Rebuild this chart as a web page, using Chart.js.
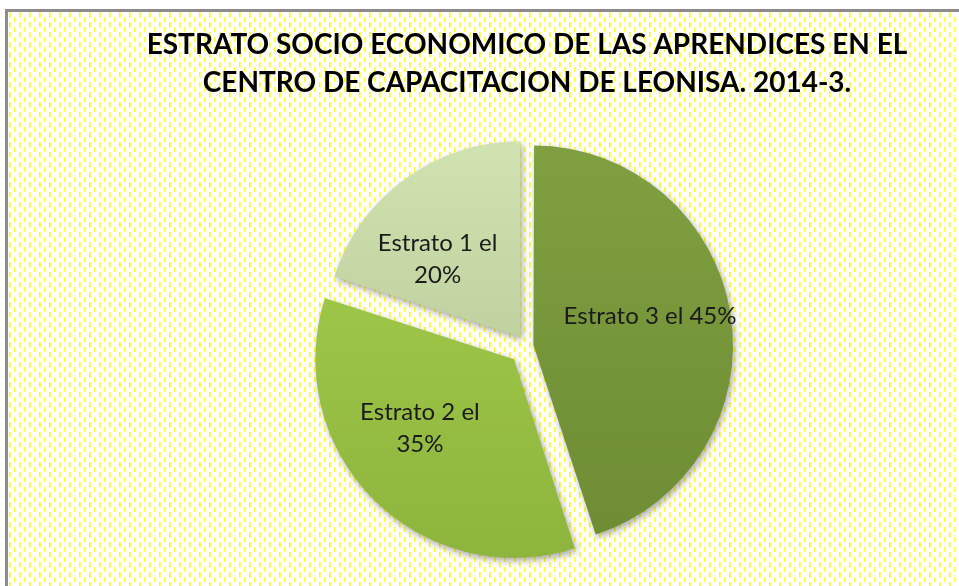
<!DOCTYPE html>
<html>
<head>
<meta charset="utf-8">
<script src="https://cdn.jsdelivr.net/npm/chart.js@4.4.1/dist/chart.umd.min.js"></script>
<style>
  html, body { margin: 0; padding: 0; background: #fff; overflow: hidden; }
  #marco {
    position: absolute; left: 5px; top: 9px; width: 1000px; height: 700px;
    border-top: 3px solid #8c8c8c; border-left: 3px solid #8c8c8c;
    background-image: url("data:image/svg+xml;utf8,<svg xmlns='http://www.w3.org/2000/svg' width='10' height='10'><rect x='1' y='0' width='1.6' height='5.5' fill='%23ffff00'/><rect x='6' y='5' width='1.6' height='5.5' fill='%23ffff33'/></svg>");
  }
  #caja { position: absolute; left: 0; top: 0; width: 959px; height: 586px; }
</style>
</head>
<body>
<div id="marco"></div>
<div id="caja"><canvas id="MyChart" width="959" height="586"></canvas></div>
<script>
// datos del grafico
const estratos = ['Estrato 3', 'Estrato 2', 'Estrato 1']
const porcentajes = [45, 35, 20]
const titulo = ['ESTRATO SOCIO ECONOMICO DE LAS APRENDICES EN EL', 'CENTRO DE CAPACITACION DE LEONISA. 2014-3.']

// colores de cada tajada (arriba claro, abajo oscuro)
const colArriba = ['#80a040', '#a6cf4e', '#d2e4b2']
const colAbajo = ['#6d8c34', '#8db43c', '#aebf8c']

const ctx = document.getElementById('MyChart')

// sombra debajo de las tajadas y los textos encima
const sombraYTextos = {
    id: 'sombraYTextos',
    beforeDatasetsDraw(chart) {
        const c = chart.ctx
        c.save()
        c.shadowColor = 'rgba(0,0,0,0.35)'
        c.shadowBlur = 7
        c.shadowOffsetX = 2
        c.shadowOffsetY = 3
    },
    afterDatasetsDraw(chart) {
        const c = chart.ctx
        c.restore()
        const meta = chart.getDatasetMeta(0)
        c.save()
        c.font = '24px Lato'
        c.fillStyle = '#1b1b1b'
        c.textAlign = 'center'
        c.textBaseline = 'middle'
        meta.data.forEach((arc, i) => {
            let mitad = (arc.startAngle + arc.endAngle) / 2
            const circ = arc.endAngle - arc.startAngle
            const off = (arc.options.offset || 0) / 4
            const desp = off + off * (1 - Math.sin(Math.min(Math.PI, circ)))
            const x0 = arc.x + Math.cos(mitad) * desp
            const y0 = arc.y + Math.sin(mitad) * desp
            // el texto se corre un poco hacia la horizontal, como en Excel
            const horiz = Math.cos(mitad) >= 0 ? 0 : Math.PI
            let dif = Math.atan2(Math.sin(horiz - mitad), Math.cos(horiz - mitad))
            mitad += dif * 0.2
            const d = arc.outerRadius * 0.58
            const x = x0 + Math.cos(mitad) * d
            const y = y0 + Math.sin(mitad) * d
            if (porcentajes[i] < 40) {
                c.fillText(estratos[i] + ' el', x, y - 16)
                c.fillText(porcentajes[i] + '%', x, y + 16)
            } else {
                c.fillText(estratos[i] + ' el ' + porcentajes[i] + '%', x, y - 14)
            }
        })
        c.restore()
    }
}

const myChart = new Chart(ctx, {
    type: 'pie',
    data: {
        labels: estratos,
        datasets: [{
            data: porcentajes,
            backgroundColor: (context) => {
                const area = context.chart.chartArea
                if (!area) return colArriba[context.dataIndex]
                const g = context.chart.ctx.createLinearGradient(0, area.top, 0, area.bottom)
                g.addColorStop(0, colArriba[context.dataIndex])
                g.addColorStop(1, colAbajo[context.dataIndex])
                return g
            },
            borderWidth: 0,
            hoverBorderWidth: 0,
            offset: [26, 74, 45],
            hoverOffset: 0
        }]
    },
    options: {
        responsive: false,
        animation: false,
        radius: 195,
        layout: { padding: { left: 95, right: 0, top: 0, bottom: 31 } },
        plugins: {
            legend: { display: false },
            tooltip: { enabled: false },
            title: {
                display: true,
                text: titulo,
                color: '#000',
                font: { family: 'Lato', size: 28, weight: 'bold', lineHeight: 1.36 },
                padding: { top: 26, bottom: 35 }
            }
        }
    },
    plugins: [sombraYTextos]
})
</script>
</body>
</html>
